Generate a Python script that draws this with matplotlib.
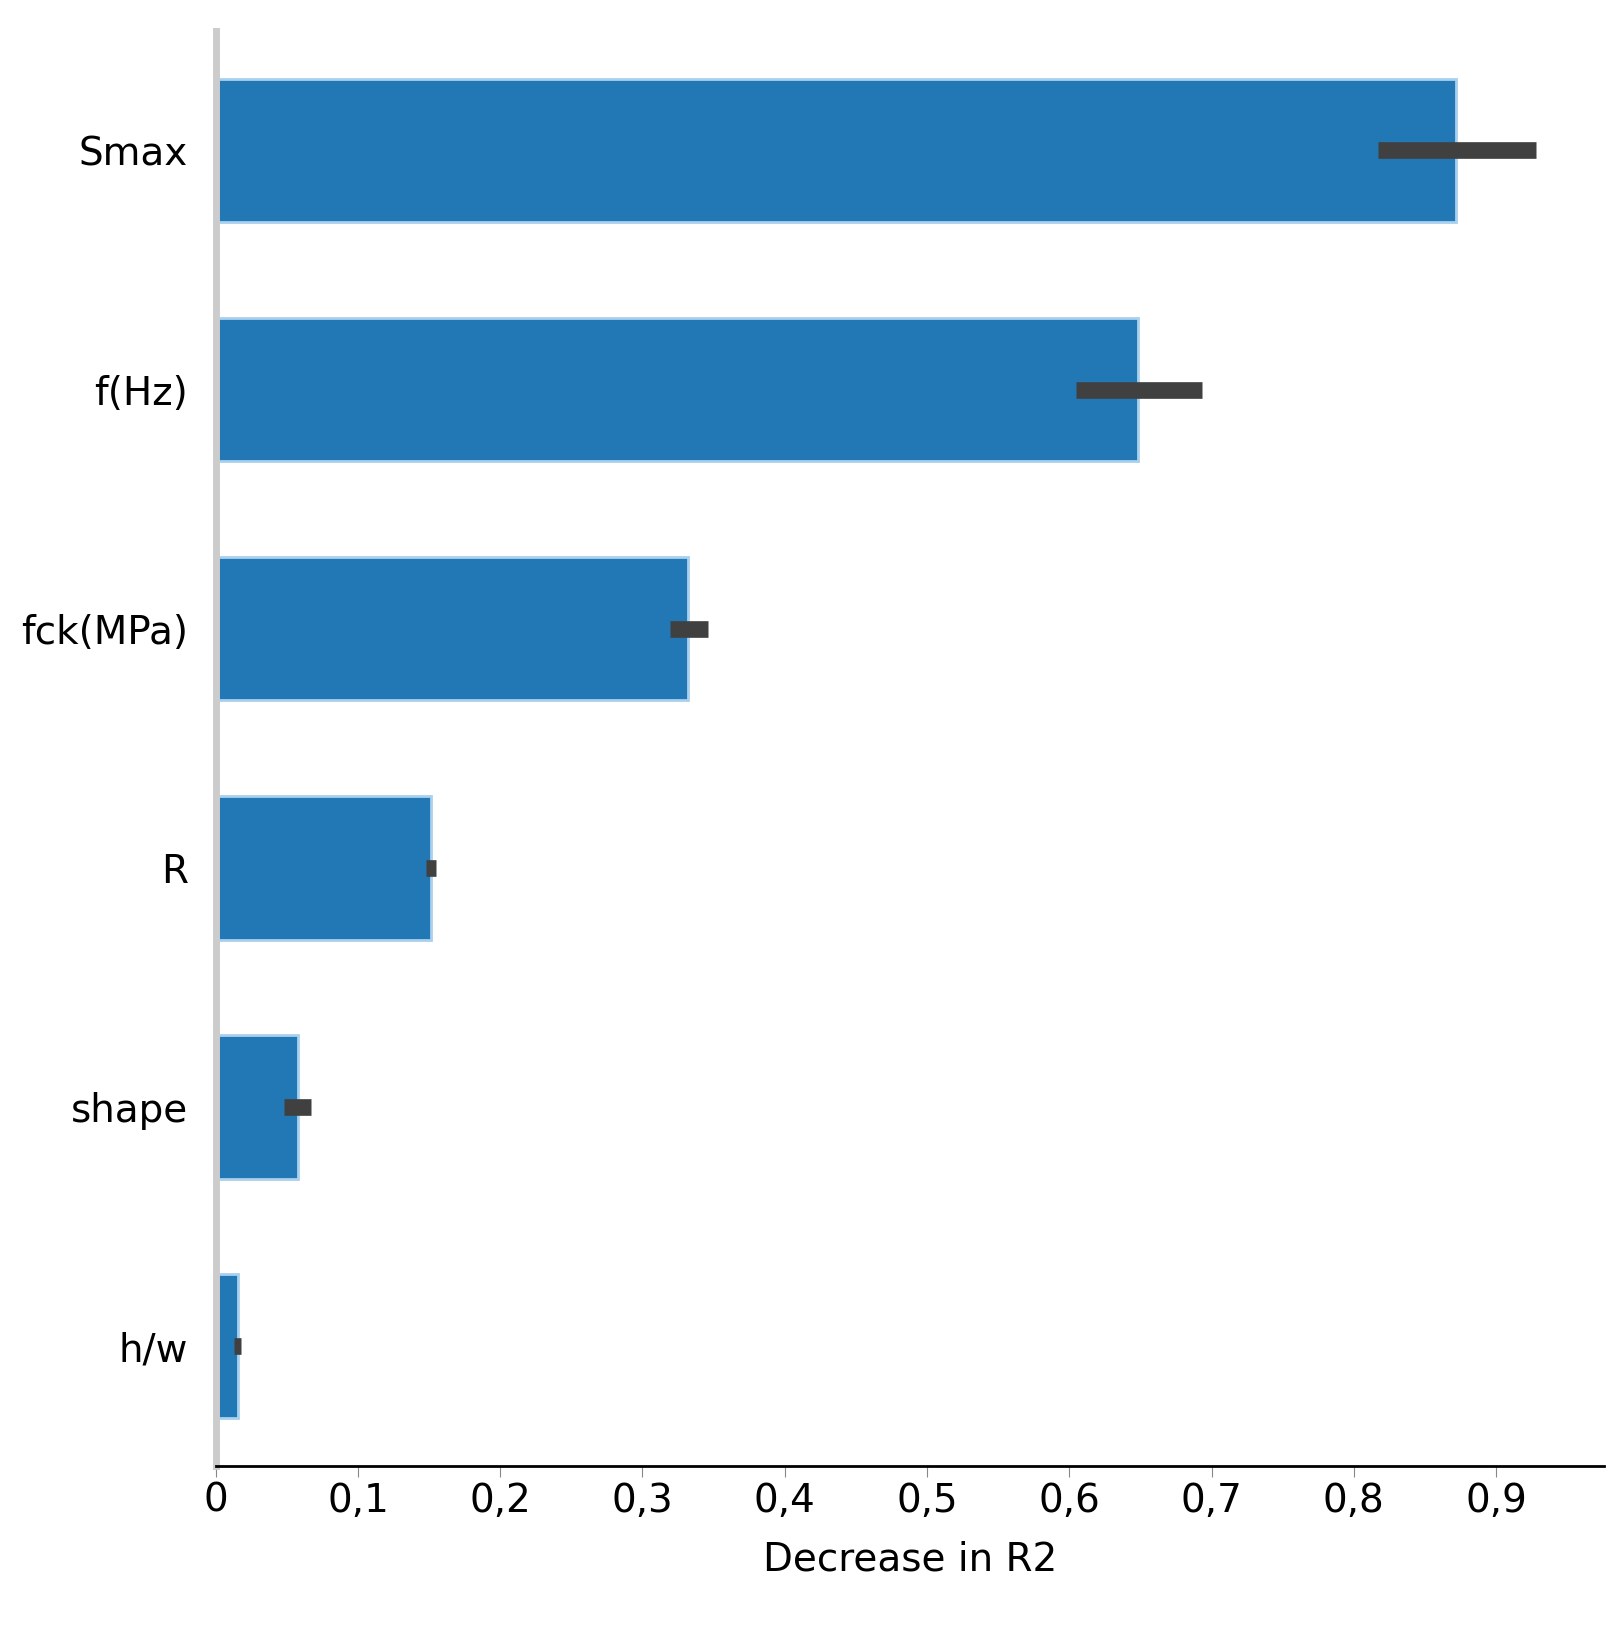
import matplotlib.pyplot as plt
from matplotlib.ticker import FuncFormatter

# feature importance (decrease in R2), top to bottom
features = ["Smax", "f(Hz)", "fck(MPa)", "R", "shape", "h/w"]
importance = [0.872, 0.648, 0.332, 0.151, 0.058, 0.016]
err_low = [0.817, 0.605, 0.319, 0.148, 0.048, 0.013]
err_high = [0.928, 0.693, 0.346, 0.155, 0.067, 0.018]
ticks = [0, 0.1, 0.2, 0.3, 0.4, 0.5, 0.6, 0.7, 0.8, 0.9]

fig = plt.figure(figsize=(16.22, 16.25), dpi=100)
ax = fig.add_axes([0.133, 0.098, 0.856, 0.883])

ypos = list(range(len(features)))[::-1]
ax.barh(ypos, importance, height=0.6, color="#2178b4", edgecolor="#a9d0ee", linewidth=2)
xerr = [[v - lo for v, lo in zip(importance, err_low)],
        [hi - v for v, hi in zip(importance, err_high)]]
ax.errorbar(importance, ypos, xerr=xerr, fmt="none", ecolor="#404040", elinewidth=12, capsize=0)

ax.set_ylim(-0.5, 5.5)
ax.set_xlim(0, 0.976)
ax.set_yticks(ypos)
ax.set_yticklabels(features)
ax.set_xticks(ticks)
ax.xaxis.set_major_formatter(FuncFormatter(lambda v, p: "0" if v == 0 else f"{v:.1f}".replace(".", ",")))
ax.tick_params(axis="y", length=0, labelsize=28, pad=20)
ax.tick_params(axis="x", labelsize=28, length=8, color="#888888")
ax.set_xlabel("Decrease in R2", fontsize=28, labelpad=15)

for s in ["top", "right"]:
    ax.spines[s].set_visible(False)
ax.spines["left"].set_color("#cccccc")
ax.spines["left"].set_linewidth(5)
ax.spines["bottom"].set_linewidth(2)

fig.savefig("out.png")
